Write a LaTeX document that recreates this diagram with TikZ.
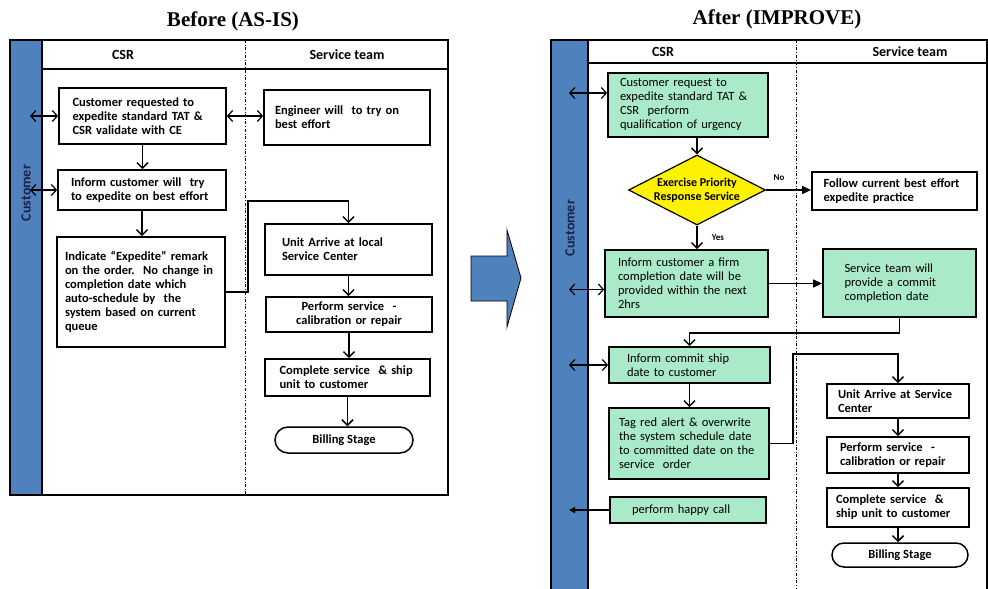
\documentclass[tikz,border=0pt]{standalone}
\usepackage{fontspec}
\setmainfont{Carlito}
\newfontfamily\titlefont{Liberation Serif}
\usetikzlibrary{arrows.meta,shapes.geometric,shapes.misc,calc}
\definecolor{laneblue}{RGB}{79,129,189}
\definecolor{mint}{RGB}{170,234,200}
\definecolor{navytext}{RGB}{25,35,70}

\begin{document}
\begin{tikzpicture}[x=1pt, y=-1pt,
    box/.style={draw, line width=1.7pt, align=left, inner sep=0pt, font=\bfseries\fontsize{12.5}{14}\selectfont},
    gbox/.style={box, fill=mint, font=\fontsize{12.5}{14}\selectfont},
    term/.style={rounded rectangle, draw, line width=1.5pt, inner sep=0pt, font=\bfseries\fontsize{12.5}{14}\selectfont},
    decide/.style={diamond, draw, fill=yellow, line width=1.2pt, aspect=2, inner sep=-4pt, align=center, font=\bfseries\fontsize{12}{14}\selectfont},
    lane/.style={fill=laneblue, draw=black, line width=1.6pt},
    frame/.style={line width=1.6pt},
    divider/.style={dashdotted, line width=1pt},
    hdr/.style={font=\bfseries\fontsize{14}{16}\selectfont},
    ttl/.style={font=\titlefont\bfseries\fontsize{21}{25}\selectfont},
    lbl/.style={font=\bfseries\fontsize{9}{10}\selectfont},
    dbl/.style={{Straight Barb[length=5pt,width=11pt]}-{Straight Barb[length=5pt,width=11pt]}, line width=1.2pt},
    arr/.style={-{Straight Barb[length=5.5pt,width=11pt]}, line width=1.5pt},
    farr/.style={-{Triangle[length=9pt,width=8pt]}, line width=1.3pt}]
    \useasboundingbox (0,0) rectangle (988,589);
    \fill[white] (0,0) rectangle (988,589);

    % Before: lanes
    \node[ttl] (titleA) at (233,21) {Before (AS-IS)};
    \draw[lane] (10,40) rectangle (42,495);
    \draw[frame] (42,40) rectangle (448,495);
    \draw[frame] (42,69) -- (448,69);
    \draw[divider] (245,40) -- (245,495);
    \node[hdr] (csrA) at (123,55) {CSR};
    \node[hdr] (teamA) at (347,55) {Service team};
    \node[hdr, rotate=90, text=navytext] (custA) at (26,193) {Customer};
    \coordinate (laneA) at (30,0);

    % Before: steps
    \node[box, minimum width=167, minimum height=56, text width=140] (b1) at (142.5,116) {Customer requested to\\expedite standard TAT \&\\CSR validate with CE};
    \node[box, minimum width=166, minimum height=55, text width=144] (eng) at (347,117.5) {Engineer will\ \ to try on\\best effort};
    \node[box, minimum width=168, minimum height=40, text width=142] (b2) at (142,190) {Inform customer will\ \ try\\to expedite on best effort};
    \node[box, minimum width=168, minimum height=110, text width=152] (b3) at (141,292) {Indicate “Expedite” remark\\on the order.\ \ No change in\\completion date which\\auto-schedule by\ \ the\\system based on current\\queue\\[10pt]};
    \node[box, minimum width=167, minimum height=51, text width=133] (unit) at (348.5,249.5) {Unit Arrive at local\\Service Center};
    \node[box, minimum width=166, minimum height=35, text width=140, align=center] (perf) at (349,314.5) {Perform service\ \ -\\calibration or repair};
    \node[box, minimum width=165, minimum height=37, text width=136] (comp) at (347.5,377.5) {Complete service\ \ \& ship\\unit to customer};
    \node[term, minimum width=138, minimum height=26] (bill) at (344,440) {Billing Stage};

    % Before: connectors
    \draw[dbl] (laneA |- b1.west) -- (b1.west);
    \draw[dbl] (b1.east) -- (b1.east -| eng.west);
    \draw[arr] (b1.south) -- (b1.south |- b2.north);
    \draw[dbl] (laneA |- b2.west) -- (b2.west);
    \draw[arr] (b2.south) -- (b2.south |- b3.north);
    \draw[arr] (b3.east) -- ++(22,0) |- ($(unit.north)+(0,-22)$) -- (unit.north);
    \draw[arr] (unit.south) -- (unit.south |- perf.north);
    \draw[arr] (perf.south) -- (perf.south |- comp.north);
    \draw[arr] (comp.south) -- (comp.south |- bill.north);

    % Block arrow
    \draw[fill=laneblue, line width=0.8pt] (471,256) -- (507,256) -- (507,230) -- (521,278) -- (507,327) -- (507,301) -- (471,301) -- cycle;

    % After: lanes
    \node[ttl] (titleB) at (777,19) {After (IMPROVE)};
    \draw[lane] (551,40) rectangle (588,592);
    \draw[frame] (588,40) -- (987,40) -- (987,592);
    \draw[frame] (588,63) -- (987,63);
    \draw[divider] (796,40) -- (796,592);
    \node[hdr] (csrB) at (663,52) {CSR};
    \node[hdr] (teamB) at (910,52) {Service team};
    \node[hdr, rotate=90, text=navytext] (custB) at (570,228) {Customer};
    \coordinate (laneB) at (569,0);

    % After: steps
    \node[gbox, minimum width=160, minimum height=64, text width=136] (g1) at (688,105) {Customer request to\\expedite standard TAT \&\\CSR\ \ perform\\qualification of urgency};
    \node[decide, minimum width=137, minimum height=70] (dec) at (697,190) {Exercise Priority\\Response Service};
    \node[box, minimum width=165, minimum height=38, text width=142] (follow) at (894.5,191) {Follow current best effort\\expedite practice};
    \node[gbox, minimum width=163, minimum height=67, text width=137] (g2) at (686.5,283.5) {Inform customer a firm\\completion date will be\\provided within the next\\2hrs};
    \node[gbox, minimum width=153, minimum height=68, text width=110] (st) at (899.5,283) {Service team will\\provide a commit\\completion date\\[8pt]};
    \node[gbox, minimum width=161, minimum height=36, text width=125] (g3) at (689.5,365) {Inform commit ship\\date to customer};
    \node[gbox, minimum width=160, minimum height=71, text width=140] (g4) at (689,443.5) {Tag red alert \& overwrite\\the system schedule date\\to committed date on the\\service\ \ order};
    \node[gbox, minimum width=156, minimum height=26, text width=112] (g5) at (688,510) {perform happy call};
    \node[box, minimum width=142, minimum height=34, text width=120] (u2) at (898,401) {Unit Arrive at Service\\Center};
    \node[box, minimum width=142, minimum height=36, text width=116] (p2) at (898,455) {Perform service\ \ -\\calibration or repair};
    \node[box, minimum width=142, minimum height=39, text width=124] (c2) at (898,507.5) {Complete service\ \ \&\\ship unit to customer};
    \node[term, minimum width=136, minimum height=24] (bill2) at (900,555) {Billing Stage};

    % After: connectors
    \coordinate (g1in) at ($(g1.west)+(0,-12)$);
    \draw[dbl] (laneB |- g1in) -- (g1in);
    \draw[arr] (dec.north |- g1.south) -- (dec.north);
    \draw[farr] (dec.east) -- (dec.east -| follow.west);
    \node[lbl] (no) at (779,178) {No};
    \draw[arr] (dec.south) -- (dec.south |- g2.north);
    \node[lbl] (yes) at (718,238) {Yes};
    \coordinate (g2in) at ($(g2.west)+(0,6)$);
    \draw[dbl] (laneB |- g2in) -- (g2in);
    \draw[farr] (g2.east) -- (g2.east -| st.west);
    \draw[arr] (st.south) -- ++(0,15) -| (g3.north);
    \draw[dbl] (laneB |- g3.west) -- (g3.west);
    \draw[arr] (g3.south) -- (g3.south |- g4.north);
    \draw[arr] (g4.east) -- ++(23,0) |- ($(u2.north)+(0,-29)$) -- (u2.north);
    \draw[arr] (u2.south) -- (u2.south |- p2.north);
    \draw[arr] (p2.south) -- (p2.south |- c2.north);
    \draw[arr] (c2.south) -- (c2.south |- bill2.north);
    \draw[-{Triangle[length=6pt,width=6pt]}, line width=1.8pt] (g5.west) -- (laneB |- g5.west);
\end{tikzpicture}
\end{document}
